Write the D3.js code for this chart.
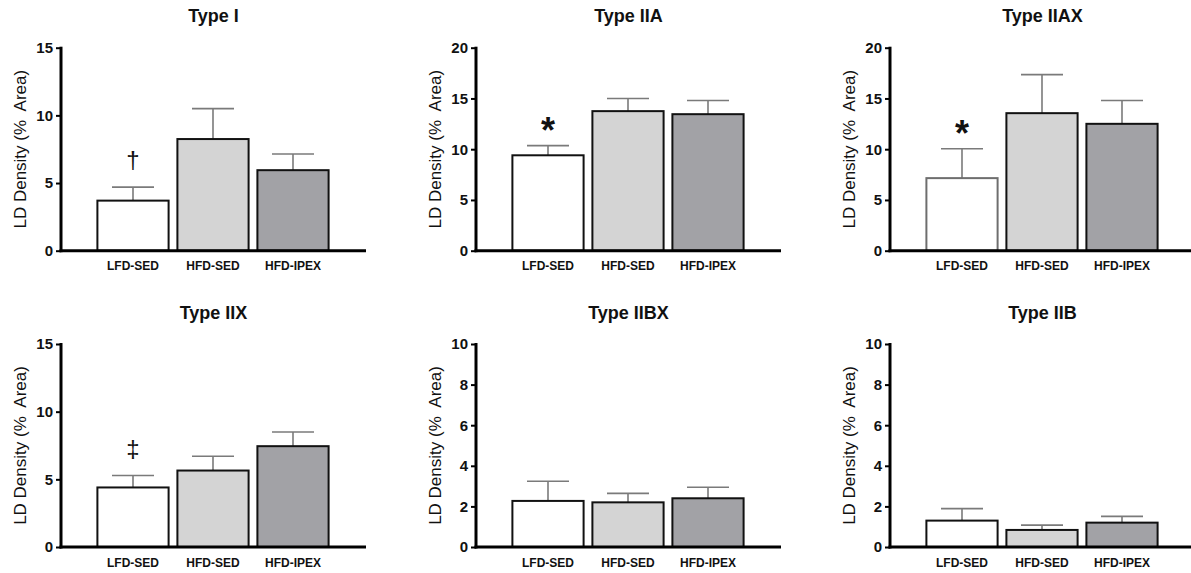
<!DOCTYPE html>
<html><head><meta charset="utf-8">
<script src="https://cdn.jsdelivr.net/npm/d3@7"></script>
<style>body{margin:0;background:#fff}svg{display:block}</style>
</head><body>
<svg id="c" width="1191" height="573"></svg>
<script>
const groups = ["LFD-SED", "HFD-SED", "HFD-IPEX"];
const panelTitles = ["Type I", "Type IIA", "Type IIAX", "Type IIX", "Type IIBX", "Type IIB"];
const yMax = [15, 20, 20, 15, 10, 10];
const yTicks = [[0,5,10,15],[0,5,10,15,20],[0,5,10,15,20],[0,5,10,15],[0,2,4,6,8,10],[0,2,4,6,8,10]];
const means = [
  [3.7, 8.25, 5.95],
  [9.4, 13.75, 13.45],
  [7.15, 13.55, 12.5],
  [4.4, 5.65, 7.45],
  [2.27, 2.2, 2.4],
  [1.3, 0.84, 1.2]
];
const sems = [
  [1.0, 2.25, 1.2],
  [0.95, 1.25, 1.35],
  [2.9, 3.8, 2.3],
  [0.88, 1.06, 1.05],
  [0.97, 0.44, 0.54],
  [0.59, 0.24, 0.31]
];
const marks = ["\u2020", "*", "*", "\u2021", "", ""];

const fills = ["#ffffff", "#d4d4d4", "#a2a2a6"];
const font = "Arial, 'Liberation Sans', Helvetica, sans-serif";
const svg = d3.select("#c");
const axisX = [61, 476, 890];
const topY = [47.7, 344];
const plotH = 203;
const axisLen = 305;

panelTitles.forEach((title, i) => {
  const col = i % 3, row = Math.floor(i / 3);
  const g = svg.append("g").attr("transform", `translate(${axisX[col]},${topY[row]})`);
  const y = d3.scaleLinear().domain([0, yMax[i]]).range([plotH, 0]);
  const x = d3.scaleBand().domain(groups).range([32, 272]).paddingInner(0.11).paddingOuter(0.055);

  // error bars
  groups.forEach((grp, j) => {
    const cx = x(grp) + x.bandwidth() / 2;
    const top = y(means[i][j] + sems[i][j]);
    g.append("line").attr("x1", cx).attr("x2", cx).attr("y1", y(means[i][j])).attr("y2", top)
      .attr("stroke", "#7a7a7a").attr("stroke-width", 1.6);
    g.append("line").attr("x1", cx - 21).attr("x2", cx + 21).attr("y1", top).attr("y2", top)
      .attr("stroke", "#7a7a7a").attr("stroke-width", 1.6);
  });

  // bars
  g.selectAll("rect.bar").data(groups).enter().append("rect")
    .attr("x", d => x(d)).attr("width", x.bandwidth())
    .attr("y", (d, j) => y(means[i][j]))
    .attr("height", (d, j) => plotH - y(means[i][j]))
    .attr("fill", (d, j) => fills[j])
    .attr("stroke", (d, j) => (i === 2 && j === 0) ? "#6e6e6e" : "#111")
    .attr("stroke-width", 2);

  // y axis
  const ya = d3.axisLeft(y).tickValues(yTicks[i]).tickSize(5).tickPadding(3).tickFormat(d3.format("d"));
  const yg = g.append("g").call(ya);
  yg.select(".domain").remove();
  yg.selectAll(".tick line").attr("stroke", "#000").attr("stroke-width", 2);
  yg.selectAll(".tick text").attr("font-family", font).attr("font-size", 15).attr("font-weight", "bold").attr("fill", "#111");
  g.append("line").attr("x1", 0).attr("x2", 0).attr("y1", -1).attr("y2", plotH + 1.5)
    .attr("stroke", "#000").attr("stroke-width", 3);

  // x axis
  const xa = d3.axisBottom(x).tickSize(0).tickPadding(11);
  const xg = g.append("g").attr("transform", `translate(0,${plotH})`).call(xa);
  xg.select(".domain").remove();
  xg.selectAll(".tick text").attr("font-family", font).attr("font-size", 12).attr("font-weight", "bold").attr("fill", "#111");
  g.append("line").attr("x1", -1.5).attr("x2", axisLen).attr("y1", plotH).attr("y2", plotH)
    .attr("stroke", "#000").attr("stroke-width", 3);

  // y label
  g.append("text").attr("transform", `translate(-41,${plotH / 2}) rotate(-90)`)
    .attr("text-anchor", "middle").attr("dominant-baseline", "central")
    .attr("font-family", font).attr("font-size", 17).attr("fill", "#111")
    .attr("xml:space", "preserve").style("white-space", "pre")
    .text("LD Density (%  Area)");

  // title
  g.append("text").attr("x", axisLen / 2).attr("y", (row === 0 ? 16 : 313.3) - topY[row])
    .attr("text-anchor", "middle").attr("dominant-baseline", "central")
    .attr("font-family", font).attr("font-size", 18).attr("font-weight", "bold").attr("fill", "#111")
    .text(title);

  // significance marks
  if (marks[i]) {
    const cx = x(groups[0]) + x.bandwidth() / 2;
    const yTop = y(means[i][0] + sems[i][0]);
    const isStar = marks[i] === "*";
    g.append("text").attr("x", cx).attr("y", yTop - (isStar ? 3 : 19))
      .attr("text-anchor", "middle")
      .attr("font-family", font).attr("font-size", isStar ? 36 : 24).attr("font-weight", isStar ? "bold" : "normal")
      .attr("fill", "#111").text(marks[i]);
  }
});
</script>
</body></html>
